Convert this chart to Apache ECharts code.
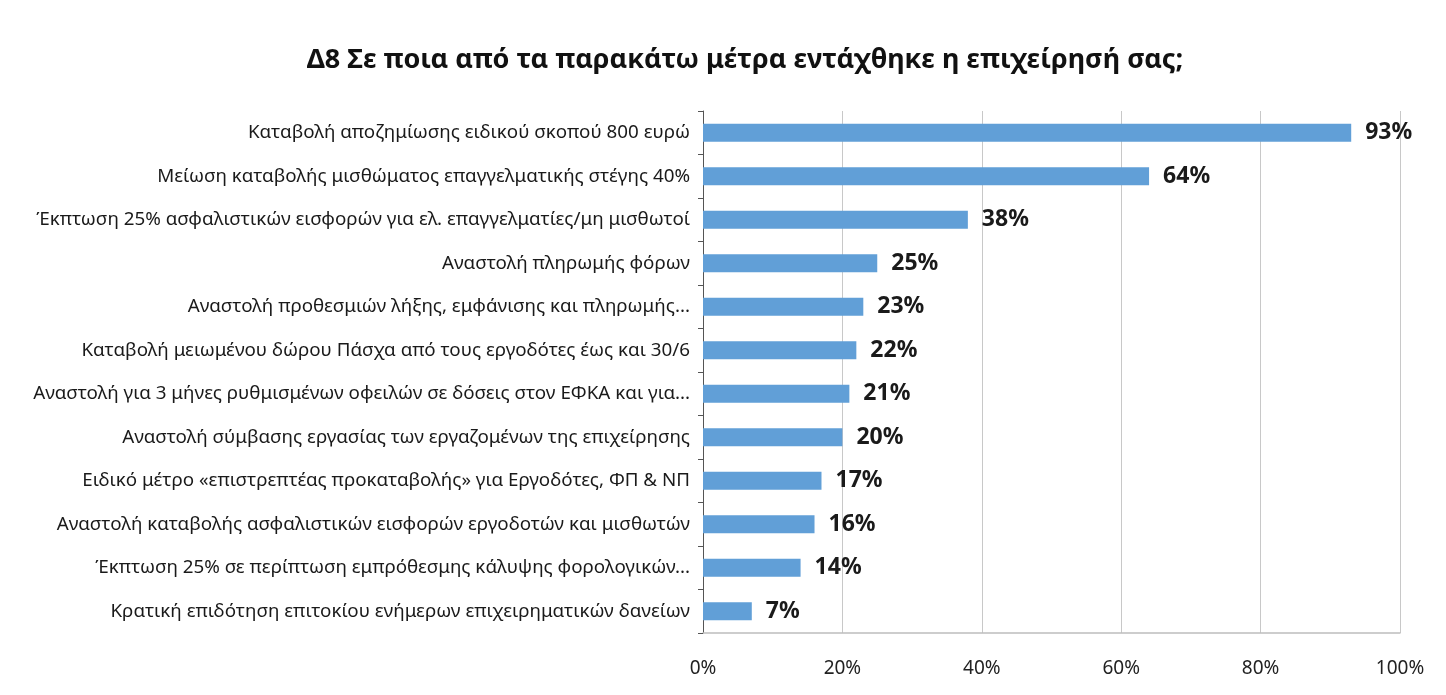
<!DOCTYPE html>
<html>
<head>
<meta charset="utf-8">
<script src="https://cdn.jsdelivr.net/npm/echarts@6/dist/echarts.min.js"></script>
<style>
  html, body { margin: 0; padding: 0; background: #fff; }
  #chart { width: 1446px; height: 695px; }
</style>
</head>
<body>
<div id="chart"></div>
<script>
// categories from top to bottom
const categories = [
  'Καταβολή αποζημίωσης ειδικού σκοπού 800 ευρώ',
  'Μείωση καταβολής μισθώματος επαγγελματικής στέγης 40%',
  'Έκπτωση 25% ασφαλιστικών εισφορών για ελ. επαγγελματίες/μη μισθωτοί',
  'Αναστολή πληρωμής φόρων',
  'Αναστολή προθεσμιών λήξης, εμφάνισης και πληρωμής...',
  'Καταβολή μειωμένου δώρου Πάσχα από τους εργοδότες έως και 30/6',
  'Αναστολή για 3 μήνες ρυθμισμένων οφειλών σε δόσεις στον ΕΦΚΑ και για...',
  'Αναστολή σύμβασης εργασίας των εργαζομένων της επιχείρησης',
  'Ειδικό μέτρο «επιστρεπτέας προκαταβολής» για Εργοδότες, ΦΠ & ΝΠ',
  'Αναστολή καταβολής ασφαλιστικών εισφορών εργοδοτών και μισθωτών',
  'Έκπτωση 25% σε περίπτωση εμπρόθεσμης κάλυψης φορολογικών...',
  'Κρατική επιδότηση επιτοκίου ενήμερων επιχειρηματικών δανείων'
];
const values = [93, 64, 38, 25, 23, 22, 21, 20, 17, 16, 14, 7];
const xTicks = [0, 20, 40, 60, 80, 100];

const font = '"Noto Sans", sans-serif';

const chart = echarts.init(document.getElementById('chart'));
const option = {
  backgroundColor: '#fff',
  animation: false,
  title: {
    text: 'Δ8 Σε ποια από τα παρακάτω μέτρα εντάχθηκε η επιχείρησή σας;',
    left: 740,
    top: 42,
    textAlign: 'center',
    textStyle: { fontFamily: font, fontSize: 27, fontWeight: 'bold', color: '#111' }
  },
  grid: { left: 703, right: 46, top: 111, bottom: 62, containLabel: false },
  xAxis: {
    type: 'value',
    min: 0,
    max: 100,
    interval: 20,
    axisLine: { show: true, lineStyle: { color: '#bdbdbd', width: 1.5 } },
    axisTick: { show: false },
    splitLine: { show: true, lineStyle: { color: '#c8c8c8', width: 1 } },
    axisLabel: {
      margin: 26,
      fontFamily: font, fontSize: 19, color: '#222',
      formatter: v => (xTicks.indexOf(v) >= 0 ? v + '%' : '')
    }
  },
  yAxis: {
    type: 'category',
    inverse: true,
    data: categories,
    axisLine: { show: true, lineStyle: { color: '#555', width: 1 } },
    axisTick: { show: true, length: 5, lineStyle: { color: '#555' } },
    axisLabel: { margin: 13, fontFamily: font, fontSize: 18.8, color: '#1a1a1a' }
  },
  series: [{
    type: 'bar',
    data: values,
    barWidth: 18,
    itemStyle: { color: '#619fd7' },
    label: {
      show: true,
      position: 'right',
      distance: 14,
      formatter: p => p.value + '%',
      fontFamily: font, fontSize: 23, fontWeight: 'bold', color: '#1a1a1a'
    }
  }]
};
chart.setOption(option);
</script>
</body>
</html>
